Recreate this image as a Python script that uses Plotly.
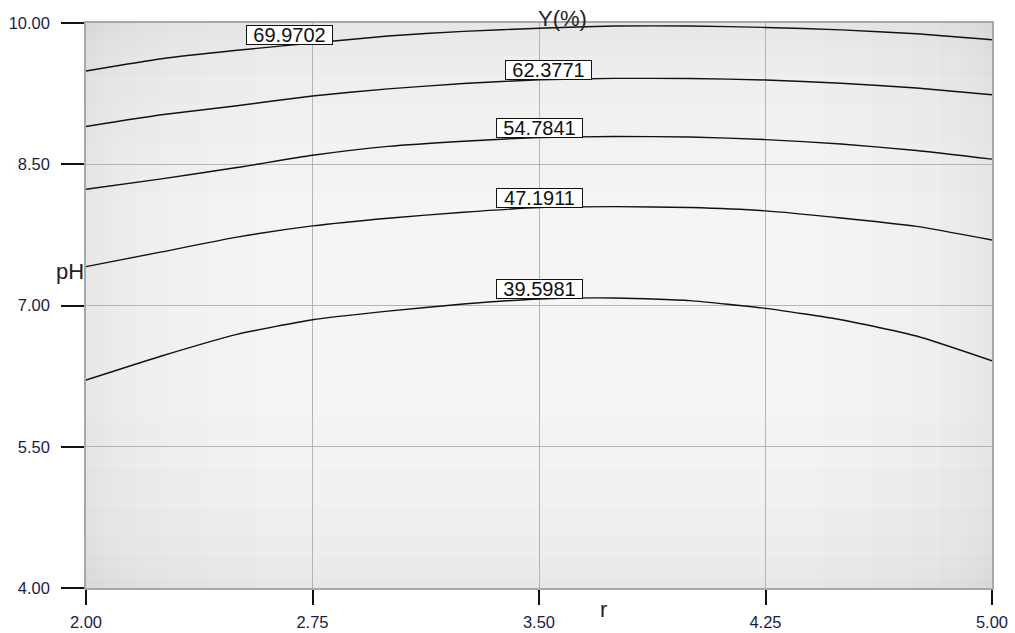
import numpy as np
import plotly.graph_objects as go

# r grid on which each contour line is sampled
r_vals = [2.00, 2.25, 2.50, 2.75, 3.00, 3.25, 3.50, 3.75, 4.00, 4.25, 4.50, 4.75, 5.00]

# contour levels of Y(%) and the pH reached by each level along r
levels = [39.5981, 47.1911, 54.7841, 62.3771, 69.9702]
ph_39 = [6.208, 6.464, 6.694, 6.849, 6.940, 7.016, 7.069, 7.080, 7.052, 6.970, 6.849, 6.676, 6.413]
ph_47 = [7.413, 7.569, 7.726, 7.845, 7.927, 7.990, 8.040, 8.050, 8.040, 8.005, 7.930, 7.840, 7.696]
ph_54 = [8.235, 8.345, 8.465, 8.595, 8.690, 8.745, 8.784, 8.795, 8.790, 8.762, 8.715, 8.646, 8.554]
ph_62 = [8.901, 9.025, 9.121, 9.225, 9.300, 9.358, 9.397, 9.412, 9.410, 9.395, 9.360, 9.309, 9.238]
ph_69 = [9.490, 9.620, 9.710, 9.787, 9.862, 9.911, 9.945, 9.968, 9.968, 9.953, 9.927, 9.886, 9.822]
contour_ph = [ph_39, ph_47, ph_54, ph_62, ph_69]

# r position of each level's label
label_r = [3.50, 3.50, 3.50, 3.533, 2.674]

x_ticks = [2.00, 2.75, 3.50, 4.25, 5.00]
y_ticks = [4.00, 5.50, 7.00, 8.50, 10.00]

X_RANGE = (2.0, 5.0)
Y_RANGE = (4.0, 10.0)

FONT = "Liberation Sans, Arial, sans-serif"
TICK_COLOR = "#1c1c48"

fig = go.Figure()

for lvl, ph in zip(levels, contour_ph):
    fig.add_trace(go.Scatter(
        x=r_vals, y=ph, mode="lines",
        line=dict(color="#111111", width=1.4, shape="spline", smoothing=0.5),
        hoverinfo="skip", showlegend=False,
    ))

# boxed level labels sitting on their lines
for lvl, ph, lx in zip(levels, contour_ph, label_r):
    ly = float(np.interp(lx, r_vals, ph))
    fig.add_annotation(
        x=lx, y=ly, xref="x", yref="y", text=f"{lvl:.4f}",
        showarrow=False, xanchor="center", yanchor="bottom",
        font=dict(family=FONT, size=20, color="#111111"),
        bgcolor="white", bordercolor="#111111", borderwidth=1, borderpad=0,
        width=85, height=18,
    )

# soft vignette: darker toward the frame of the plotting area
dx = (X_RANGE[1] - X_RANGE[0]) / 906.0
dy = (Y_RANGE[1] - Y_RANGE[0]) / 565.0
for w in [8, 18, 32, 52, 80, 120, 170]:
    strips = [
        (X_RANGE[0], Y_RANGE[0], X_RANGE[0] + w * dx, Y_RANGE[1]),
        (X_RANGE[1] - w * dx, Y_RANGE[0], X_RANGE[1], Y_RANGE[1]),
        (X_RANGE[0], Y_RANGE[0], X_RANGE[1], Y_RANGE[0] + w * dy),
        (X_RANGE[0], Y_RANGE[1] - w * dy, X_RANGE[1], Y_RANGE[1]),
    ]
    for x0, y0, x1, y1 in strips:
        fig.add_shape(type="rect", x0=x0, y0=y0, x1=x1, y1=y1,
                      xref="x", yref="y", layer="below",
                      fillcolor="rgba(0,0,0,0.006)", line=dict(width=0))

# title and axis captions
fig.add_annotation(x=3.579, y=1.008, xref="x", yref="paper", text="Y(%)",
                   showarrow=False, xanchor="center", yanchor="middle",
                   font=dict(family=FONT, size=22, color="#222222"))
fig.add_annotation(x=0.0, y=7.36, xref="paper", yref="y", text="pH",
                   showarrow=False, xanchor="right", yanchor="middle",
                   font=dict(family=FONT, size=22, color="#222222"))
fig.add_annotation(x=3.712, y=-0.038, xref="x", yref="paper", text="r",
                   showarrow=False, xanchor="center", yanchor="middle",
                   font=dict(family=FONT, size=22, color="#222222"))

axis_common = dict(
    showgrid=True, gridcolor="#b4b4b4", gridwidth=1,
    showline=True, linecolor="#a8a8a8", linewidth=1.5, mirror=True,
    ticks="outside", tickcolor="#111111", tickwidth=1.5,
    tickformat=".2f", zeroline=False, automargin=False,
    tickfont=dict(family=FONT, size=16.5, color=TICK_COLOR),
)

fig.update_xaxes(range=list(X_RANGE), tickvals=x_ticks, ticklen=15,
                 ticklabelstandoff=3, **axis_common)
fig.update_yaxes(range=list(Y_RANGE), tickvals=y_ticks, ticklen=23,
                 ticklabelstandoff=8, **axis_common)

fig.update_layout(
    width=1015, height=633,
    margin=dict(l=86, r=23, t=23, b=45, pad=0),
    paper_bgcolor="white", plot_bgcolor="#f5f5f5",
    font=dict(family=FONT),
    showlegend=False,
)

fig.write_html("out.html")
